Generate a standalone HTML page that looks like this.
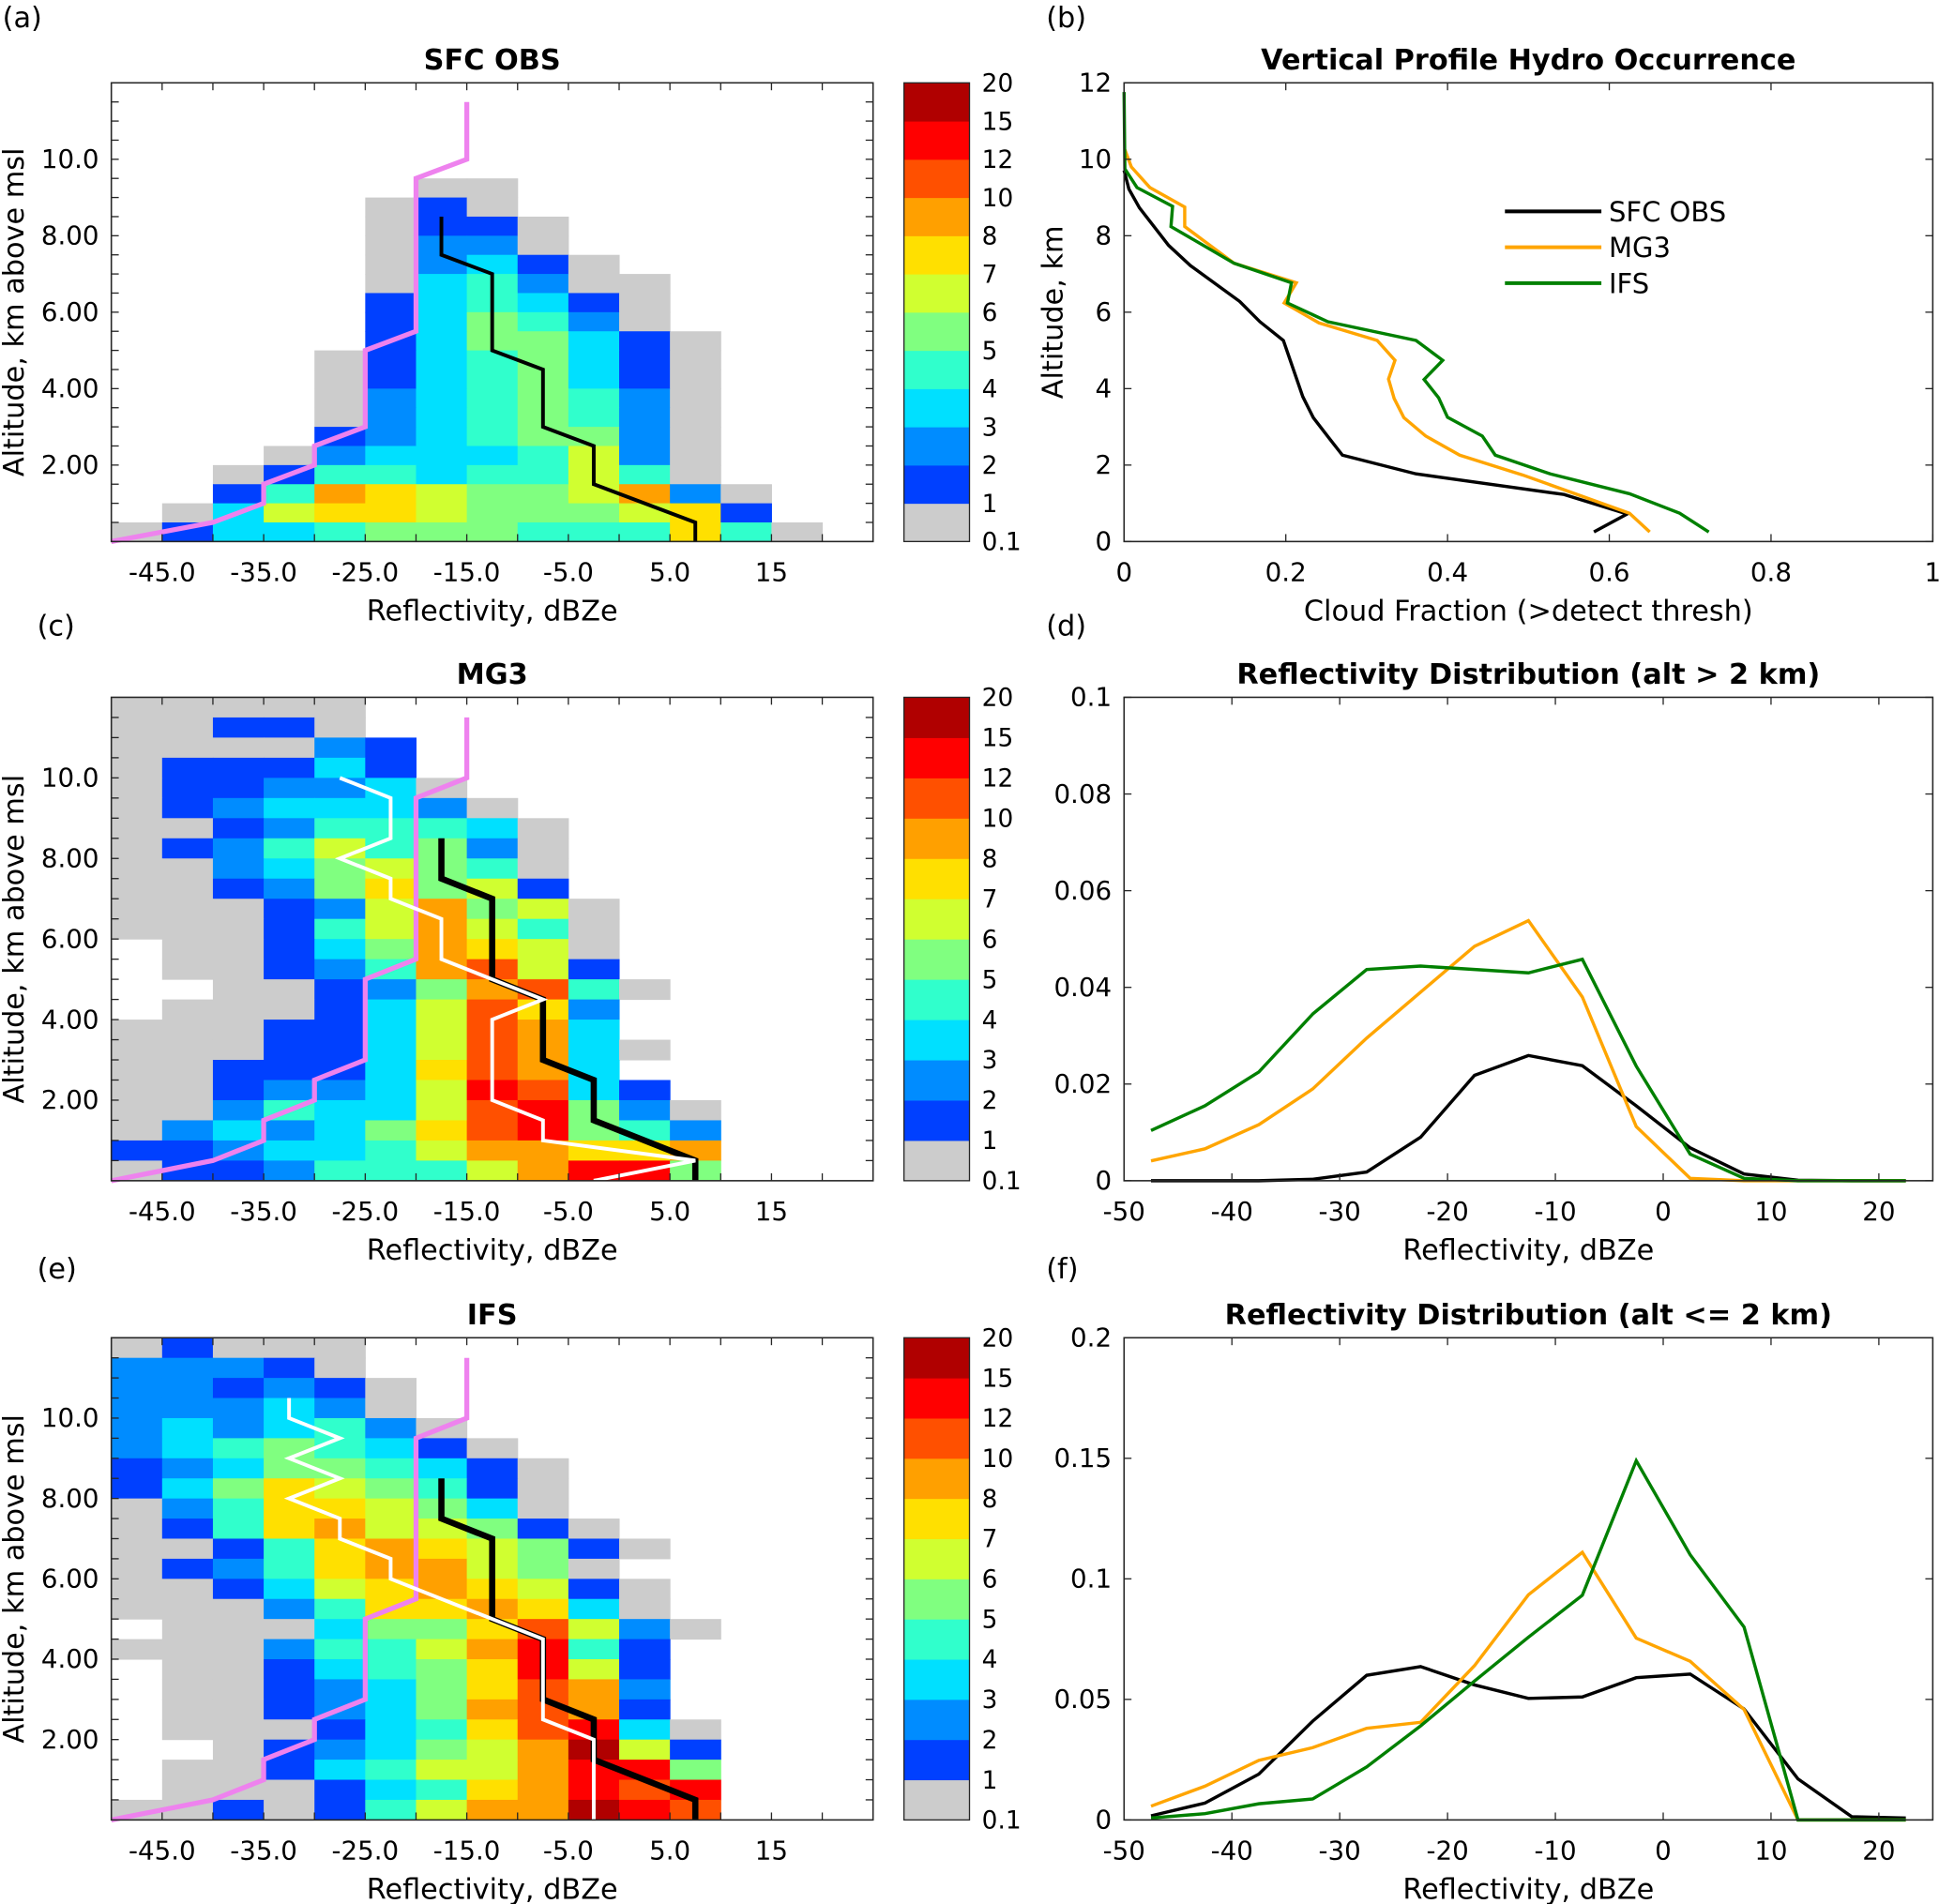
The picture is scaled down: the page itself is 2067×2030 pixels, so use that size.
<!DOCTYPE html>
<html><head><meta charset="utf-8"><style>
html,body{margin:0;padding:0;background:#fff;}
svg{display:block;font-family:"DejaVu Sans","Liberation Sans",sans-serif;}
</style></head><body>
<svg id="fig" xmlns="http://www.w3.org/2000/svg" width="2067" height="2030" viewBox="0 0 1568 1540">
<rect width="1568" height="1540" fill="#fff"/>
</svg>
<script>
// ---------- DATA ----------
const heatA = [
"...............","...............","...............","...............","...............",
"......gg.......",".....g1g.......",".....g11g......",".....g22g......",".....g231g.....",
".....g342gg....",".....13431g....",".....13542g....",".....135531g...","....g134531g...",
"....g134531g...","....g234542g...","....g234542g...","....1234552g...","...g2333462g...",
"..g14434464g...","..1487655682g..",".g36776555671..","g133455544474g."];
const heatC = [
"ggggg..........","gg11g..........","gggg21.........","g11131.........","g11223g........",
"g123332g.......","gg124443g......","g1246452g......","gg235654g......","gg1257561......",
"ggg126856g.....","ggg146864g.....",".gg135876g.....",".gg1248961.....","..gg125894g....",
".ggg136972.....","ggg1136983.....","ggg1136983g....","gg11137983.....","gg12236A931....",
"gg243369A52g...","g2323579A542...","112334688778...","g11244468AA5..."];
const heatE = [
"g1ggg..........","2221g..........","22121g.........","22232g.........","232342g........",
"2345431g.......","12355431g......","13576541g......","g2477653g......","g14786651g.....",
"gg14787651g....","g12478865g.....","gg13678761g....","ggg2477873g....",".ggg3557962g...",
"ggg24468A41....",".gg13457A61....",".gg12357982....",".gg12358981....",".ggg13479A3g...",
"..g123568B61...",".gg134668AA5...",".ggg13478A9A...","gg1g14688BA9..."];
const pinkX = [-50,-45,-40,-35,-35,-30,-30,-25,-25,-20,-20,-15,-15];
const pinkY = [0,0.25,0.5,1,1.5,2,2.5,3,5,5.5,9.5,10,11.5];
const obsMedX = [-17.5,-17.5,-12.5,-12.5,-7.5,-7.5,-2.5,-2.5,7.5,7.5];
const obsMedY = [8.5,7.5,7,5,4.5,3,2.5,1.5,0.5,0];
const mg3MedX = [-27.5,-22.5,-22.5,-27.5,-22.5,-22.5,-17.5,-17.5,-7.5,-12.5,-12.5,-7.5,-7.5,7.5,-2.5];
const mg3MedY = [10,9.5,8.5,8,7.5,7,6.5,5.5,4.5,4,2,1.5,1,0.5,0];
const ifsMedX = [-32.5,-32.5,-27.5,-32.5,-27.5,-32.5,-27.5,-27.5,-22.5,-22.5,-7.5,-7.5,-2.5,-2.5];
const ifsMedY = [10.5,10,9.5,9,8.5,8,7.5,7,6.5,6,4.5,2.5,2,0];
const cbLabels = ["0.1","1","2","3","4","5","6","7","8","10","12","15","20"];
// panel b
const profObsX=[0.581,0.622,0.544,0.361,0.27,0.253,0.234,0.221,0.197,0.168,0.143,0.082,0.055,0.019,0.006,0];
const profObsY=[0.25,0.72,1.23,1.77,2.26,2.72,3.24,3.79,5.26,5.75,6.28,7.22,7.75,8.73,9.22,9.71];
const profMg3X=[0.65,0.625,0.493,0.415,0.373,0.346,0.334,0.327,0.335,0.313,0.241,0.198,0.213,0.136,0.075,0.075,0.032,0.009,0.001];
const profMg3Y=[0.25,0.74,1.74,2.26,2.76,3.24,3.74,4.25,4.74,5.26,5.72,6.24,6.77,7.28,8.24,8.75,9.26,9.8,10.25];
const profIfsX=[0.723,0.687,0.625,0.527,0.459,0.443,0.4,0.389,0.371,0.394,0.361,0.252,0.202,0.207,0.136,0.058,0.06,0.016,0.001,0];
const profIfsY=[0.25,0.74,1.25,1.77,2.26,2.76,3.25,3.76,4.24,4.74,5.26,5.75,6.24,6.77,7.28,8.24,8.77,9.26,9.75,11.76];
// panels d, f
const binCenters=[-47.5,-42.5,-37.5,-32.5,-27.5,-22.5,-17.5,-12.5,-7.5,-2.5,2.5,7.5,12.5,17.5,22.5];
const dObs=[0,0,0,0.0003,0.0018,0.009,0.0218,0.0259,0.0238,0.0155,0.0068,0.0014,0.0001,0,0];
const dMg3=[0.0041,0.0066,0.0116,0.019,0.0295,0.039,0.0485,0.0538,0.038,0.0112,0.0005,0,0,0,0];
const dIfs=[0.0104,0.0155,0.0225,0.0345,0.0437,0.0444,0.0437,0.043,0.0458,0.0237,0.0055,0.0005,0,0,0];
const fObs=[0.0017,0.007,0.019,0.041,0.060,0.0636,0.056,0.0504,0.051,0.059,0.0605,0.046,0.017,0.0013,0.0008];
const fMg3=[0.0057,0.014,0.0247,0.030,0.038,0.0405,0.064,0.0934,0.111,0.0754,0.0658,0.0458,0,0,0];
const fIfs=[0.0008,0.0026,0.0067,0.0087,0.022,0.039,0.0576,0.0758,0.0932,0.149,0.110,0.08,0,0,0];

// ---------- DRAW ----------
const NS="http://www.w3.org/2000/svg";
const svg=document.getElementById('fig');
const COL={g:'#cccccc','1':'#0040ff','2':'#008cff','3':'#00e0ff','4':'#30ffcc','5':'#80ff80','6':'#d0ff30','7':'#ffe000','8':'#ffa000','9':'#ff5000','A':'#ff0000','B':'#b00000'};
const CBC=['#cccccc','#0040ff','#008cff','#00e0ff','#30ffcc','#80ff80','#d0ff30','#ffe000','#ffa000','#ff5000','#ff0000','#b00000'];
const TICK=21, LAB=23, TTL=23;
function mk(tag,attrs,parent){const e=document.createElementNS(NS,tag);for(const k in attrs)e.setAttribute(k,attrs[k]);(parent||svg).appendChild(e);return e;}
function txt(x,y,s,size,anchor,extra){const t=mk('text',Object.assign({x:x,y:y,'font-size':size,'text-anchor':anchor||'middle',fill:'#000'},extra||{}));t.textContent=s;return t;}
function scales(L,T,W,H,x0,x1,y0,y1){return {x:v=>L+(v-x0)/(x1-x0)*W,y:v=>T+H-(v-y0)/(y1-y0)*H};}
function polyline(sx,sy,xs,ys,color,w,name){const p=xs.map((v,i)=>sx(v).toFixed(2)+','+sy(ys[i]).toFixed(2)).join(' ');const e=mk('polyline',{points:p,fill:'none',stroke:color,'stroke-width':w,'stroke-linejoin':'miter'});


return e;}
function frame(L,T,W,H,name){const r=mk('rect',{x:L,y:T,width:W,height:H,fill:'none',stroke:'#262626','stroke-width':1.2});

}
function tick(x1,y1,x2,y2){mk('line',{x1:x1,y1:y1,x2:x2,y2:y2,stroke:'#262626','stroke-width':1});}

function heatPanel(L,T,W,H,grid,title,lines,pname){
  const s=scales(L,T,W,H,-50,25,0,12);
  const g=mk('g',{});
  
  
  grid.forEach((row,ri)=>{const km=12-0.5*(ri+1);for(let c=0;c<15;c++){const ch=row[c];if(ch&&ch!=='.'){const x=s.x(-50+5*c),x2=s.x(-45+5*c),y=s.y(km+0.5),y2=s.y(km);
    const r=mk('rect',{x:x.toFixed(2),y:y.toFixed(2),width:(x2-x+0.4).toFixed(2),height:(y2-y+0.4).toFixed(2),fill:COL[ch]},g);
    
    }}});
  lines.forEach(l=>polyline(s.x,s.y,l[0],l[1],l[2],l[3],l[4]));
  frame(L,T,W,H,pname+'-axes');
  for(let v=-45;v<25;v+=5){tick(s.x(v),T+H,s.x(v),T+H-6);tick(s.x(v),T,s.x(v),T+6);}
  for(let v=0.5;v<12;v+=0.5){tick(L,s.y(v),L+6,s.y(v));tick(L+W,s.y(v),L+W-6,s.y(v));}
  [-45,-35,-25,-15,-5,5,15].forEach(v=>{const t=txt(s.x(v),T+H+32,v===15?'15':v.toFixed(1),TICK);});
  [2,4,6,8,10].forEach(v=>{const t=txt(L-10,s.y(v)+7,v===10?'10.0':v.toFixed(2),TICK,'end');});
  const tt=txt(L+W/2+0,T-11,title,TTL,'middle',{'font-weight':'bold'});
  
  
  const xl=txt(L+W/2,T+H+64,'Reflectivity, dBZe',LAB);
  
  
  const yl=txt(0,0,'Altitude, km above msl',LAB,'middle',{transform:`translate(19,${T+H/2}) rotate(-90)`});
  
  
  // colorbar
  const cL=731,cW=53,seg=H/12;
  const cb=mk('g',{});
  
  
  CBC.forEach((c,i)=>mk('rect',{x:cL,y:(T+H-seg*(i+1)).toFixed(2),width:cW,height:(seg+0.4).toFixed(2),fill:c},cb));
  mk('rect',{x:cL,y:T,width:cW,height:H,fill:'none',stroke:'#262626','stroke-width':1},cb);
  cbLabels.forEach((lb,i)=>{const t=txt(cL+cW+10,T+H-seg*i+7,lb,20,'start');});
}

heatPanel(90,67,616,371,heatA,'SFC OBS',[[pinkX,pinkY,'#ee82ee',4,'min-detect-line'],[obsMedX,obsMedY,'#000',3,'obs-median-line']],'sfc-obs');
heatPanel(90,564,616,391,heatC,'MG3',[[pinkX,pinkY,'#ee82ee',4,'min-detect-line'],[obsMedX,obsMedY,'#000',5,'obs-median-line'],[mg3MedX,mg3MedY,'#fff',3,'mg3-median-line']],'mg3');
heatPanel(90,1082,616,390,heatE,'IFS',[[pinkX,pinkY,'#ee82ee',4,'min-detect-line'],[obsMedX,obsMedY,'#000',5,'obs-median-line'],[ifsMedX,ifsMedY,'#fff',3,'ifs-median-line']],'ifs');

function linePanel(L,T,W,H,x0,x1,y0,y1,xt,xtl,yt,ytl,title,xlab,ylab,series,pname){
  const s=scales(L,T,W,H,x0,x1,y0,y1);
  series.forEach(se=>polyline(s.x,s.y,se[0],se[1],se[2],2.6,se[3]));
  frame(L,T,W,H,pname+'-axes');
  xt.forEach((v,i)=>{tick(s.x(v),T+H,s.x(v),T+H-6);tick(s.x(v),T,s.x(v),T+6);const t=txt(s.x(v),T+H+32,xtl[i],TICK);});
  yt.forEach((v,i)=>{tick(L,s.y(v),L+6,s.y(v));tick(L+W,s.y(v),L+W-6,s.y(v));const t=txt(L-10,s.y(v)+7,ytl[i],TICK,'end');});
  const tt=txt(L+W/2,T-11,title,TTL,'middle',{'font-weight':'bold'});
  
  
  const xl=txt(L+W/2,T+H+64,xlab,LAB);
  
  
  if(ylab){const yl=txt(0,0,ylab,LAB,'middle',{transform:`translate(859,${T+H/2}) rotate(-90)`});
  
  }
  return s;
}
linePanel(909,67,654,371,0,1,0,12,[0,0.2,0.4,0.6,0.8,1],['0','0.2','0.4','0.6','0.8','1'],[0,2,4,6,8,10,12],['0','2','4','6','8','10','12'],
 'Vertical Profile Hydro Occurrence','Cloud Fraction (>detect thresh)','Altitude, km',
 [[profObsX,profObsY,'#000','obs-profile-line'],[profMg3X,profMg3Y,'#ffa500','mg3-profile-line'],[profIfsX,profIfsY,'#008000','ifs-profile-line']],'hydro-profile');
// legend
[['SFC OBS','#000',171],['MG3','#ffa500',200],['IFS','#008000',229]].forEach(l=>{
  const g=mk('g',{});
  
  
  mk('line',{x1:1217,y1:l[2],x2:1295,y2:l[2],stroke:l[1],'stroke-width':3},g);
  const t=txt(1301,l[2]+8,l[0],22,'start');g.appendChild(t);
});
const xdt=[-50,-40,-30,-20,-10,0,10,20],xdl=xdt.map(String);
linePanel(909,564,654,391,-50,25,0,0.1,xdt,xdl,[0,0.02,0.04,0.06,0.08,0.1],['0','0.02','0.04','0.06','0.08','0.1'],
 'Reflectivity Distribution (alt > 2 km)','Reflectivity, dBZe',null,
 [[binCenters,dObs,'#000','obs-dist-high'],[binCenters,dMg3,'#ffa500','mg3-dist-high'],[binCenters,dIfs,'#008000','ifs-dist-high']],'dist-high');
linePanel(909,1082,654,390,-50,25,0,0.2,xdt,xdl,[0,0.05,0.1,0.15,0.2],['0','0.05','0.1','0.15','0.2'],
 'Reflectivity Distribution (alt <= 2 km)','Reflectivity, dBZe',null,
 [[binCenters,fObs,'#000','obs-dist-low'],[binCenters,fMg3,'#ffa500','mg3-dist-low'],[binCenters,fIfs,'#008000','ifs-dist-low']],'dist-low');
// panel letters
[['(a)',2,22],['(b)',846,22],['(c)',30,514],['(d)',846,514],['(e)',30,1034],['(f)',846,1034]].forEach(p=>{
  const t=txt(p[1],p[2],p[0],23,'start');
  
  
});
</script>
</body></html>
